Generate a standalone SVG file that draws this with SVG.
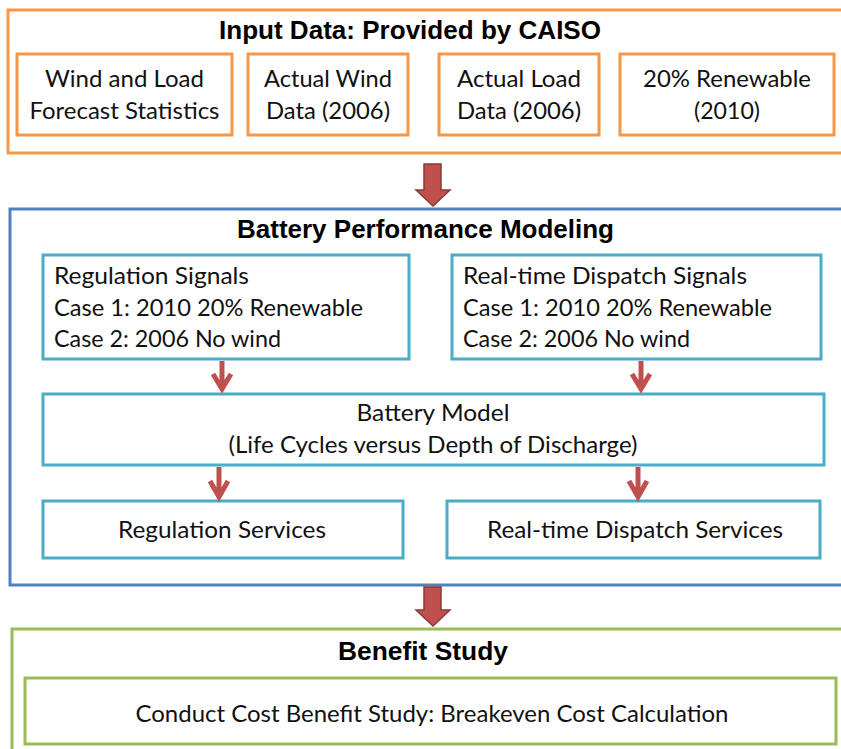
<svg xmlns="http://www.w3.org/2000/svg" width="841" height="749" viewBox="0 0 841 749">
<defs>
<style>
.bg{fill:#ffffff}
.orange{fill:#ffffff;stroke:#F79646;stroke-width:3}
.blue{fill:#ffffff;stroke:#4F81BD;stroke-width:3}
.teal{fill:#ffffff;stroke:#4BACC6;stroke-width:3}
.green{fill:#ffffff;stroke:#9BBB59;stroke-width:3}
.title{font-family:"Liberation Sans",Arial,sans-serif;font-weight:bold;font-size:25px;fill:#000;text-anchor:middle}
.t{font-family:Lato,"Open Sans",sans-serif;font-size:23px;fill:#111}
.c{text-anchor:middle}
.big{fill:#C0504D;stroke:#8C3836;stroke-width:1.5}
.small{fill:none;stroke:#C0504D;stroke-width:5}
</style>
</defs>
<rect class="bg" x="0" y="0" width="841" height="749"/>

<g id="input-data">
<rect class="orange" x="8" y="10" width="850" height="143"/>
<text class="title" x="410" y="39" textLength="382" lengthAdjust="spacingAndGlyphs">Input Data: Provided by CAISO</text>
</g>
<g id="wind-load-forecast">
<rect class="orange" x="17" y="54" width="215" height="81"/>
<text class="t c" x="124.5" y="87" textLength="159" lengthAdjust="spacingAndGlyphs">Wind and Load</text>
<text class="t c" x="124.5" y="119" textLength="190" lengthAdjust="spacingAndGlyphs">Forecast Statistics</text>
</g>
<g id="actual-wind">
<rect class="orange" x="248" y="54" width="160" height="81"/>
<text class="t c" x="328" y="87" textLength="128" lengthAdjust="spacingAndGlyphs">Actual Wind</text>
<text class="t c" x="328" y="119" textLength="124" lengthAdjust="spacingAndGlyphs">Data (2006)</text>
</g>
<g id="actual-load">
<rect class="orange" x="439" y="54" width="160" height="81"/>
<text class="t c" x="519" y="87" textLength="124" lengthAdjust="spacingAndGlyphs">Actual Load</text>
<text class="t c" x="519" y="119" textLength="124" lengthAdjust="spacingAndGlyphs">Data (2006)</text>
</g>
<g id="renewable-2010">
<rect class="orange" x="620" y="54" width="214" height="81"/>
<text class="t c" x="727" y="87" textLength="168" lengthAdjust="spacingAndGlyphs">20% Renewable</text>
<text class="t c" x="727" y="119" textLength="66" lengthAdjust="spacingAndGlyphs">(2010)</text>
</g>

<g id="battery-performance">
<rect class="blue" x="10" y="209" width="850" height="376"/>
<text class="title" x="425.5" y="238" textLength="377" lengthAdjust="spacingAndGlyphs">Battery Performance Modeling</text>
</g>
<g id="regulation-signals">
<rect class="teal" x="43" y="255" width="366" height="104"/>
<text class="t" x="54" y="284" textLength="195" lengthAdjust="spacingAndGlyphs">Regulation Signals</text>
<text class="t" x="54" y="316" textLength="309" lengthAdjust="spacingAndGlyphs">Case 1: 2010 20% Renewable</text>
<text class="t" x="54" y="347" textLength="227" lengthAdjust="spacingAndGlyphs">Case 2: 2006 No wind</text>
</g>
<g id="dispatch-signals">
<rect class="teal" x="452" y="255" width="369" height="104"/>
<text class="t" x="463" y="284" textLength="284" lengthAdjust="spacingAndGlyphs">Real-time Dispatch Signals</text>
<text class="t" x="463" y="316" textLength="309" lengthAdjust="spacingAndGlyphs">Case 1: 2010 20% Renewable</text>
<text class="t" x="463" y="347" textLength="227" lengthAdjust="spacingAndGlyphs">Case 2: 2006 No wind</text>
</g>
<g id="battery-model">
<rect class="teal" x="43" y="394" width="781" height="71"/>
<text class="t c" x="433" y="421" textLength="153" lengthAdjust="spacingAndGlyphs">Battery Model</text>
<text class="t c" x="433" y="453" textLength="409" lengthAdjust="spacingAndGlyphs">(Life Cycles versus Depth of Discharge)</text>
</g>
<g id="regulation-services">
<rect class="teal" x="43" y="501" width="360" height="57"/>
<text class="t c" x="222" y="538" textLength="208" lengthAdjust="spacingAndGlyphs">Regulation Services</text>
</g>
<g id="dispatch-services">
<rect class="teal" x="447" y="501" width="373" height="57"/>
<text class="t c" x="635" y="538" textLength="296" lengthAdjust="spacingAndGlyphs">Real-time Dispatch Services</text>
</g>

<g id="benefit-study">
<rect class="green" x="12" y="629" width="850" height="140"/>
<text class="title" x="423" y="660" textLength="170" lengthAdjust="spacingAndGlyphs">Benefit Study</text>
</g>
<g id="cost-calculation">
<rect class="green" x="25" y="678" width="811" height="66"/>
<text class="t c" x="432" y="722" textLength="593" lengthAdjust="spacingAndGlyphs">Conduct Cost Benefit Study: Breakeven Cost Calculation</text>
</g>

<g id="connectors">
<polygon class="big" points="424,164 441,164 441,190 450,190 433,206 416,190 424,190"/>
<polygon class="big" points="424,587 441,587 441,610 450,610 433,626 416,610 424,610"/>
<path class="small" d="M222,361 V389 M213,374 L222,389 L231,374"/>
<path class="small" d="M641,361 V389 M632,374 L641,389 L650,374"/>
<path class="small" d="M219,467 V497 M210,481 L219,497 L228,481"/>
<path class="small" d="M638,467 V497 M629,481 L638,497 L647,481"/>
</g>
</svg>
